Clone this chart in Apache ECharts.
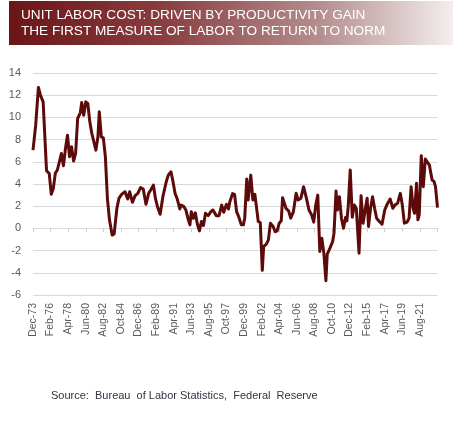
<!DOCTYPE html>
<html>
<head>
<meta charset="utf-8">
<script src="https://cdn.jsdelivr.net/npm/echarts@6/dist/echarts.min.js"></script>
<style>
html,body{margin:0;padding:0;background:#fff;}
#chart{width:453px;height:426px;}
</style>
</head>
<body>
<div id="chart"></div>
<script>
// Reading dates (YYYY-MM) and YoY % change of unit labor cost
const dates = [
"1973-12","1974-04","1974-08","1974-11","1975-03","1975-08","1975-12","1976-03","1976-06","1976-09",
"1976-12","1977-04","1977-06","1977-09","1977-12","1978-03","1978-06","1978-09","1978-12","1979-03",
"1979-06","1979-10","1979-12","1980-03","1980-06","1980-09","1980-12","1981-03","1981-06","1981-09",
"1981-12","1982-02","1982-05","1982-08","1982-11","1983-02","1983-05","1983-09","1983-12","1984-04",
"1984-07","1984-11","1985-04","1985-08","1985-11","1986-03","1986-07","1986-11","1987-03","1987-07",
"1987-11","1988-03","1988-06","1988-10","1989-01","1989-04","1989-08","1989-12","1990-05","1990-08",
"1990-12","1991-03","1991-06","1991-09","1992-01","1992-03","1992-07","1992-10","1993-01","1993-04",
"1993-06","1993-09","1993-12","1994-03","1994-06","1994-09","1994-12","1995-03","1995-07","1995-11",
"1996-02","1996-07","1996-11","1997-03","1997-06","1997-10","1998-01","1998-03","1998-07","1998-10",
"1999-01","1999-04","1999-08","1999-11","2000-01","2000-04","2000-06","2000-10","2001-01","2001-04",
"2001-06","2001-09","2001-12","2002-03","2002-05","2002-09","2002-12","2003-03","2003-07","2003-10",
"2004-01","2004-04","2004-07","2004-09","2005-02","2005-06","2005-09","2006-01","2006-05","2006-08",
"2006-12","2007-04","2007-08","2007-12","2008-04","2008-07","2008-10","2009-01","2009-04","2009-07",
"2009-10","2010-01","2010-03","2010-07","2010-11","2011-01","2011-04","2011-06","2011-09","2011-12",
"2012-03","2012-06","2012-08","2012-10","2013-01","2013-04","2013-07","2013-10","2014-02","2014-05",
"2014-08","2014-11","2015-02","2015-04","2015-07","2015-10","2016-01","2016-04","2016-08","2016-12",
"2017-04","2017-07","2017-12","2018-04","2018-07","2018-11","2019-03","2019-06","2019-09","2020-01",
"2020-04","2020-07","2020-10","2020-12","2021-03","2021-05","2021-07","2021-10","2022-01","2022-04",
"2022-06","2022-10","2023-02","2023-05","2023-07","2023-10"
];
const values = [
7.05,9.3,12.7,12.0,11.4,5.2,4.95,3.07,3.6,4.96,
5.26,6.25,6.75,5.65,7.2,8.4,6.45,7.35,6.07,6.75,
9.9,10.44,11.34,10.2,11.4,11.25,9.6,8.55,7.8,7.05,
8.25,10.5,8.25,8.16,6.45,2.7,0.8,-0.6,-0.5,1.8,
2.7,3.07,3.3,2.65,3.3,2.35,2.95,3.16,3.67,3.55,
2.17,3.16,3.46,3.9,2.7,1.96,1.27,2.86,4.2,4.8,
5.1,4.2,3.16,2.7,1.75,2.1,1.96,1.66,0.92,0.32,
1.5,0.9,1.4,0.38,-0.22,0.62,0.26,1.36,1.15,1.51,
1.66,1.15,1.15,2.1,1.45,2.17,1.75,2.4,3.13,3.07,
1.51,1.07,0.32,0.32,0.92,4.45,2.56,4.8,2.56,3.07,
2.1,0.62,0.53,-3.78,-1.63,-1.42,-1.03,0.47,0.17,-0.3,
-0.22,0.47,0.68,2.77,1.81,1.57,0.92,1.51,3.16,2.56,
2.71,3.76,2.77,1.66,1.21,0.56,2.1,3.0,-2.08,-0.88,
-2.23,-4.71,-2.32,-1.78,-1.18,-0.43,3.37,1.66,2.86,0.92,
0.02,0.98,0.68,1.96,5.26,1.0,2.1,1.8,-2.23,2.95,
0.47,1.66,2.71,0.17,1.81,2.86,1.81,0.92,0.62,0.38,
1.66,2.1,2.65,1.81,2.1,2.26,3.16,2.1,0.47,0.56,
0.92,3.76,1.81,1.36,4.06,0.77,1.21,6.55,3.76,6.25,
6.16,5.7,4.36,4.21,3.76,1.87
];
const axisStart = "1973-12";
const axisEnd = "2023-10";
const labelStepMonths = 26;
const yTicks = [-6,-4,-2,0,2,4,6,8,10,12,14];
const monthNames = ["Jan","Feb","Mar","Apr","May","Jun","Jul","Aug","Sep","Oct","Nov","Dec"];
const titleLines = ["UNIT LABOR COST: DRIVEN BY PRODUCTIVITY GAIN","THE FIRST MEASURE OF LABOR TO RETURN TO NORM"];
const sourceText = "Source:  Bureau  of Labor Statistics,  Federal  Reserve";

function mIdx(s){const p=s.split("-");return (+p[0])*12+(+p[1]-1);}
const base = mIdx(axisStart);
const span = mIdx(axisEnd)-base;
const seriesData = dates.map((d,i)=>[mIdx(d)-base, values[i]]);
const labelVals=[]; for(let v=0; v<span; v+=labelStepMonths) labelVals.push(v);
const tickVals=[]; for(let v=0; v<=span; v+=labelStepMonths) tickVals.push(v);
function fmt(v){const t=base+Math.round(v);const y=Math.floor(t/12);const m=t%12;return monthNames[m]+"-"+String(y%100).padStart(2,"0");}

const chart = echarts.init(document.getElementById('chart'), null, {renderer:'canvas'});
const font = "'Liberation Sans', Arial, sans-serif";
chart.setOption({
  animation:false,
  backgroundColor:'#ffffff',
  grid:{left:33,right:15.5,top:73,bottom:131,containLabel:false},
  xAxis:[{
    type:'value', min:0, max:span, position:'bottom',
    axisLine:{show:false,onZero:false}, axisTick:{show:false}, splitLine:{show:false},
    axisLabel:{customValues:labelVals, formatter:fmt, rotate:90, margin:8, color:'#595959', fontSize:10.5, fontFamily:font}
  },{
    type:'value', min:0, max:span, position:'bottom',
    axisLine:{show:true,onZero:true,lineStyle:{color:'#d9d9d9',width:1}},
    axisTick:{show:true,customValues:tickVals,length:4,lineStyle:{color:'#d0d0d0'}},
    axisLabel:{show:false}, splitLine:{show:false}
  }],
  yAxis:{
    type:'value', min:yTicks[0], max:yTicks[yTicks.length-1], interval:2,
    axisLine:{show:false}, axisTick:{show:false},
    splitLine:{show:true,lineStyle:{color:'#d9d9d9',width:1}},
    axisLabel:{color:'#595959',fontSize:11,margin:12,fontFamily:font}
  },
  series:[{
    type:'line', xAxisIndex:0, data:seriesData, showSymbol:false, symbol:'none',
    lineStyle:{color:'#5c0a0a',width:3,join:'round'}, z:5
  }],
  graphic:[
    {type:'rect', left:9, top:1, shape:{width:444,height:44},
     style:{fill:new echarts.graphic.LinearGradient(0,0,1,0.3,[
       {offset:0,color:'#6a1416'},{offset:0.35,color:'#8a3e40'},{offset:0.7,color:'#b48e8f'},{offset:1,color:'#f4eeee'}])}},
    {type:'text', left:21, top:8, style:{text:titleLines[0], fill:'#ffffff', font:"13.6px "+font}},
    {type:'text', left:21, top:24, style:{text:titleLines[1], fill:'#ffffff', font:"13.6px "+font}},
    {type:'text', left:51, top:390, style:{text:sourceText, fill:'#3a3040', font:"11px "+font}}
  ]
});
</script>
</body>
</html>
